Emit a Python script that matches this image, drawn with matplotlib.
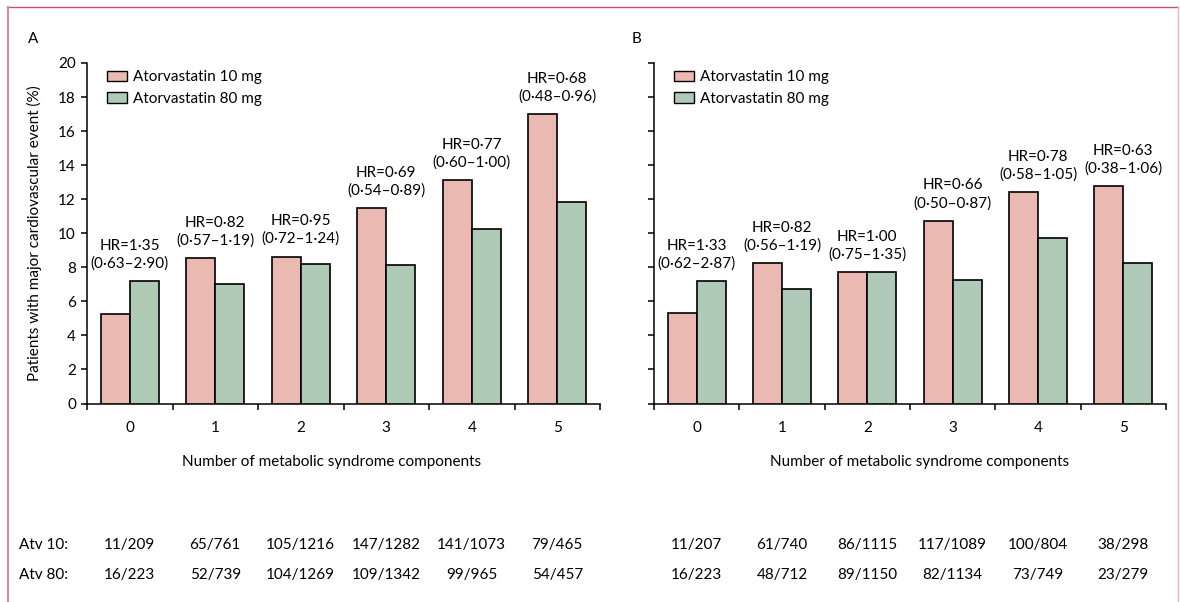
import matplotlib
matplotlib.use("Agg")
import matplotlib.pyplot as plt
from matplotlib.patches import Patch
from matplotlib.lines import Line2D
from matplotlib.transforms import blended_transform_factory

plt.rcParams['font.family'] = ['Lato', 'DejaVu Sans']

categories = ["0", "1", "2", "3", "4", "5"]

# Panel A
a_10mg = [5.26, 8.54, 8.63, 11.47, 13.14, 16.99]
a_80mg = [7.17, 7.04, 8.20, 8.12, 10.26, 11.82]
a_hr = ["HR=1·35", "HR=0·82", "HR=0·95", "HR=0·69", "HR=0·77", "HR=0·68"]
a_ci = ["(0·63–2·90)", "(0·57–1·19)", "(0·72–1·24)", "(0·54–0·89)", "(0·60–1·00)", "(0·48–0·96)"]
a_n10 = ["11/209", "65/761", "105/1216", "147/1282", "141/1073", "79/465"]
a_n80 = ["16/223", "52/739", "104/1269", "109/1342", "99/965", "54/457"]

# Panel B
b_10mg = [5.31, 8.24, 7.71, 10.74, 12.44, 12.75]
b_80mg = [7.17, 6.74, 7.74, 7.23, 9.75, 8.24]
b_hr = ["HR=1·33", "HR=0·82", "HR=1·00", "HR=0·66", "HR=0·78", "HR=0·63"]
b_ci = ["(0·62–2·87)", "(0·56–1·19)", "(0·75–1·35)", "(0·50–0·87)", "(0·58–1·05)", "(0·38–1·06)"]
b_n10 = ["11/207", "61/740", "86/1115", "117/1089", "100/804", "38/298"]
b_n80 = ["16/223", "48/712", "89/1150", "82/1134", "73/749", "23/279"]

series_labels = ["Atorvastatin 10 mg", "Atorvastatin 80 mg"]
row_labels = ["Atv 10:", "Atv 80:"]
xlabel = "Number of metabolic syndrome components"
ylabel = "Patients with major cardiovascular event (%)"

PINK = "#eab9b1"
GREEN = "#afcbb8"
FS = 11

W, H = 1180, 602
fig = plt.figure(figsize=(W / 100, H / 100), dpi=100)

def fx(px):
    return px / W

def fy(py):
    return 1 - py / H

bottom = fy(403.5)
height = fy(63) - bottom
axA = fig.add_axes([fx(87), bottom, fx(600) - fx(87), height])
axB = fig.add_axes([fx(654), bottom, fx(1166) - fx(654), height])

bw = 0.34

def draw(ax, v10, v80, hr, ci, n10, n80, show_ylabels, xlab_x):
    x = list(range(len(categories)))
    ax.bar([i - bw / 2 for i in x], v10, width=bw, color=PINK, edgecolor="black", linewidth=1.2, zorder=3)
    ax.bar([i + bw / 2 for i in x], v80, width=bw, color=GREEN, edgecolor="black", linewidth=1.2, zorder=3)
    ax.set_xlim(-0.5, 5.5)
    ax.set_ylim(0, 20)
    ax.set_yticks(range(0, 21, 2))
    if not show_ylabels:
        ax.set_yticklabels([])
    ax.set_xticks([i - 0.5 for i in range(len(categories) + 1)])
    ax.set_xticklabels([])
    ax.set_xticks(x, minor=True)
    ax.set_xticklabels(categories, minor=True, fontsize=FS)
    ax.tick_params(axis="x", which="minor", length=0, pad=12.5)
    ax.tick_params(axis="both", which="major", length=4, width=1.1, direction="out", labelsize=FS, pad=4)
    for s in ["top", "right"]:
        ax.spines[s].set_visible(False)
    for s in ["left", "bottom"]:
        ax.spines[s].set_linewidth(1.1)
    for i in x:
        top = max(v10[i], v80[i])
        ax.annotate(hr[i] + "\n" + ci[i], xy=(i, top), xytext=(0, 7.5), textcoords="offset points",
                    ha="center", va="bottom", fontsize=FS, linespacing=1.3)
    handles = [Patch(facecolor=PINK, edgecolor="black", linewidth=1.0),
               Patch(facecolor=GREEN, edgecolor="black", linewidth=1.0)]
    ax.legend(handles, series_labels, loc="upper left", bbox_to_anchor=(0.022, 1.005), frameon=False,
              fontsize=FS, handlelength=1.25, handleheight=0.7, handletextpad=0.45, labelspacing=0.5,
              borderaxespad=0.2)
    tr = blended_transform_factory(ax.transData, fig.transFigure)
    for i in x:
        ax.text(i, fy(545), n10[i], transform=tr, ha="center", va="center", fontsize=FS)
        ax.text(i, fy(575), n80[i], transform=tr, ha="center", va="center", fontsize=FS)
    fig.text(fx(xlab_x), fy(462), xlabel, ha="center", va="center", fontsize=FS)

draw(axA, a_10mg, a_80mg, a_hr, a_ci, a_n10, a_n80, True, 332)
draw(axB, b_10mg, b_80mg, b_hr, b_ci, b_n10, b_n80, False, 920)

fig.text(fx(34), fy(233), ylabel, rotation=90, ha="center", va="center", fontsize=FS)
fig.text(fx(33), fy(39), "A", ha="center", va="center", fontsize=FS)
fig.text(fx(636), fy(39), "B", ha="center", va="center", fontsize=FS)
fig.text(fx(19), fy(545), row_labels[0], ha="left", va="center", fontsize=FS)
fig.text(fx(19), fy(575), row_labels[1], ha="left", va="center", fontsize=FS)

# page frame
fig.add_artist(Line2D([fx(8), fx(1178)], [fy(7), fy(7)], color="#c9506d", linewidth=1.0))
fig.add_artist(Line2D([fx(8), fx(8)], [fy(7), 0], color="#d88aa6", linewidth=1.5))
fig.add_artist(Line2D([fx(1178), fx(1178)], [fy(7), 0], color="#e8b4c6", linewidth=1.0))

fig.savefig("out.png", dpi=100)
